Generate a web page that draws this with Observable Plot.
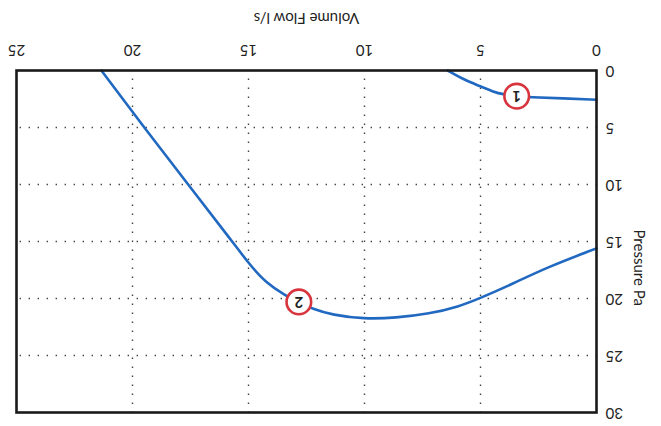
<!DOCTYPE html>
<html>
<head>
<meta charset="utf-8">
<script src="https://cdn.jsdelivr.net/npm/d3@7"></script>
<script src="https://cdn.jsdelivr.net/npm/@observablehq/plot@0.6"></script>
<style>
  html, body { margin: 0; padding: 0; background: #fff; }
  #chart { width: 661px; height: 426px; overflow: hidden; }
  #chart svg { transform: rotate(180deg); transform-origin: 50% 50%; display: block; }
</style>
</head>
<body>
<div id="chart"></div>
<script>
// Curve 1
const flow1 = [0, 1.45, 2.89, 3.44, 3.97, 4.48, 5.05, 5.77, 6.42];
const pres1 = [2.56, 2.44, 2.35, 2.25, 2.12, 1.85, 1.35, 0.75, 0];
// Curve 2
const flow2 = [0, 2.17, 3.6, 5.05, 5.92, 7.21, 8.65, 10.02, 11.39, 12.25, 12.83, 13.4, 14.27, 15.0, 15.7, 17.6, 19.5, 21.34];
const pres2 = [15.6, 17.3, 18.7, 20.0, 20.7, 21.35, 21.7, 21.8, 21.45, 20.9, 20.35, 19.75, 18.6, 16.9, 15.0, 10.0, 5.0, 0];
// Operating point markers
const markerFlow = [3.44, 12.83];
const markerPres = [2.25, 20.3];
const markerLabel = ["1", "2"];
// Ticks and axis titles
const xTicks = [0, 5, 10, 15, 20, 25];
const yTicks = [0, 5, 10, 15, 20, 25, 30];
const xTitle = "Volume Flow l/s";
const yTitle = "Pressure Pa";

const s1 = flow1.map((f, i) => ({flow: f, pressure: pres1[i]}));
const s2 = flow2.map((f, i) => ({flow: f, pressure: pres2[i]}));
const markers = markerFlow.map((f, i) => ({flow: f, pressure: markerPres[i], label: markerLabel[i]}));

const blue = "#2169c0";
const red = "#d8343e";

const chart = Plot.plot({
  width: 661,
  height: 426,
  marginTop: 13,
  marginRight: 17,
  marginBottom: 71,
  marginLeft: 64,
  style: {fontFamily: "Lato, 'Open Sans', sans-serif", fontSize: "15px", color: "#222", background: "#fff"},
  x: {domain: [0, 25], ticks: xTicks, tickSize: 0, tickPadding: 15, label: xTitle, labelAnchor: "center", labelOffset: 58, labelArrow: "none"},
  y: {domain: [0, 30], ticks: yTicks, tickSize: 0, tickPadding: 9, label: null},
  marks: [
    Plot.ruleX(xTicks.slice(1, -1), {stroke: "#444", strokeWidth: 1.4, strokeDasharray: "1.4,7.6"}),
    Plot.ruleY(yTicks.slice(1, -1), {stroke: "#444", strokeWidth: 1.4, strokeDasharray: "1.4,7.6"}),
    Plot.line(s1, {x: "flow", y: "pressure", stroke: blue, strokeWidth: 2.6, curve: "basis"}),
    Plot.line(s2, {x: "flow", y: "pressure", stroke: blue, strokeWidth: 2.6, curve: "basis"}),
    Plot.dot(markers, {x: "flow", y: "pressure", r: 12.3, fill: "#fff", stroke: red, strokeWidth: 2.6}),
    Plot.text(markers, {x: "flow", y: "pressure", text: "label", fontSize: 15, fontWeight: "bold", fill: "#222"}),
    Plot.frame({stroke: "#1a1a1a", strokeWidth: 2.6}),
    Plot.text([yTitle], {text: d => d, frameAnchor: "left", rotate: -90, dx: -42, dy: 12, fontSize: 15, fill: "#222"})
  ]
});
document.getElementById("chart").appendChild(chart);
</script>
</body>
</html>
